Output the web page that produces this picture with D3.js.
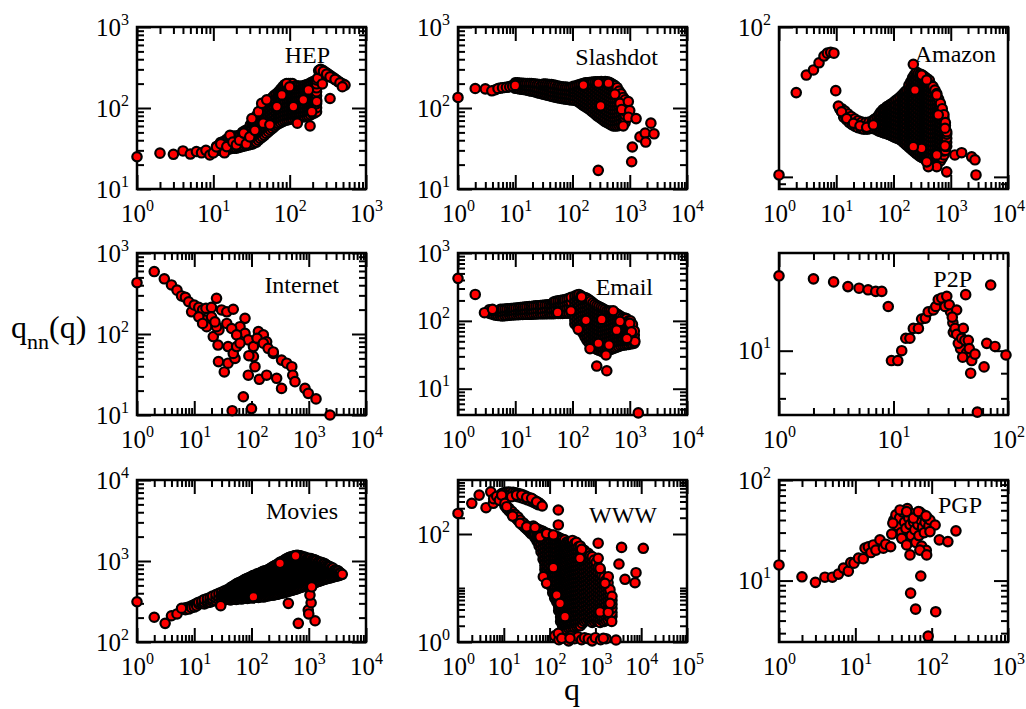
<!DOCTYPE html>
<html>
<head>
<meta charset="utf-8">
<script src="https://cdn.jsdelivr.net/npm/d3@7"></script>
<style>
body{margin:0;background:#fff}
text{font-family:"Liberation Serif","Times New Roman",serif}
</style>
</head>
<body>
<script>
// dense parts read column by column: [q, [qnn values]]; distinct dots as [q, qnn]
var hepCloud=[[11,[30,33.5]],[12.4,[30,33.6,37.5]],[14,[31,34.7,38.9]],[15.8,[31,34.7,38.9,42]],[17.8,[32,35.8,40,44.8]],[20,[32,35.8,40,44.8]],[22.6,[33,37,41.4,46.4]],[25.5,[34,38,42.6,47.7,52]],[28.8,[35,39.2,43.9,49.2,55]],[32.5,[36,40.3,45.2,50.6,56.7,63.5,68]],[36.7,[38,42.6,47.7,53.4,59.8,67,75,80]],[41.4,[42,47,52.7,59,66,74,83,93]],[46.7,[46,51.5,57.7,64.6,72.4,81,90.8,101.7,110]],[52.7,[51,57,64,71.6,80,90,100.6,112.7,120]],[59.5,[56,62.7,70.2,78.7,88,98.7,110.5,123.8,135]],[67,[62,69.4,77.8,87.1,97.5,109.2,122.3,137,150]],[76,[66,74,82.8,92.7,103.8,116.3,130.3,145.9,163,170]],[86,[70,78.4,87.8,98.3,110,123.3,138.1,154.7,173.2,194]],[97,[72,80.6,90.3,101.2,113.3,126.9,142.1,159.2,178.3,199.7]],[109,[74,82.9,92.8,104,116.4,130.4,146,163.6,183.2,200]],[123,[76,85.1,95.3,106.8,119.6,134,150,168,188]],[139,[77,86.2,96.6,108.2,121.2,135.7,152,170.2,185]],[157,[78,87.4,97.8,109.6,122.7,137.5,154,172.4,190]],[177,[80,89.6,100.4,112.4,125.9,141,157.9,176.9,198]],[200,[85,95.2,106.6,119.4,133.7,149.8,167.7,187.9,210]],[225,[90,100.8,112.9,126.4,141.6,158.6,177.6,199,222]],
  [260,[270]],[285,[262]],[315,[250]],[350,[238]],[390,[225]],[430,[212]],[480,[198]],[240,[290]],[255,[300]],[265,[295]],[280,[285]],[295,[275]],[310,[268]],[325,[258]],[345,[250]],[365,[240]],[385,[232]],[410,[222]],[435,[213]],[465,[205]],[500,[198]]];
var hepCloud2=[[11.7,[31,34.5]],[13.2,[30.5,34,38]],[14.9,[31,34.7,39,41]],[16.8,[31.5,35.2,39.5,43.5]],[18.9,[32,35.8,40.2,45]],[21.3,[32.5,36.4,40.7,45.6]],[24,[33.5,37.5,42,47,50]],[27.1,[34.5,38.6,43.3,48.5,53.5]],[30.6,[35.5,39.8,44.6,49.9,55.8,62]],[34.5,[37,41.5,46.4,52,58.2,65.2,72]],[39,[40,44.8,50.2,56.2,63,70.5,79,87]],[44,[44,49.3,55.2,61.8,69.2,77.5,86.8,97,104]],[49.6,[48.5,54.3,60.8,68.1,76.3,85.5,95.7,107,116]],[56,[53.5,60,67.2,75.2,84.2,94.3,105.6,118.3,128]],[63,[59,66,74,82.8,92.7,103.8,116.3,130.3,143]],[71.4,[64,71.7,80.3,90,100.8,112.9,126.4,141.6,158]],[81,[68,76.2,85.3,95.5,107,119.8,134.2,150.3,168.3,183]],[91.5,[71,79.5,89,99.7,111.7,125.1,140.1,156.9,175.7,197]],[103,[73,81.8,91.6,102.6,114.9,128.7,144.1,161.4,180.8,200]],[116,[75,84,94.1,105.4,118,132.2,148,165.8,185.7]],[131,[76.5,85.7,96,107.5,120.4,134.8,151,169.1,186]],[148,[77.5,86.8,97.2,108.9,122,136.6,153,171.3,187]],[167,[79,88.5,99.1,111,124.3,139.2,155.9,174.6,194]],[188,[82,91.8,102.8,115.2,129,144.5,161.8,181.2,204]],[212,[87,97.4,109.1,122.2,136.9,153.3,171.7,192.3,215]]];
var hep=[[232,233],[250,296],[277,283],[305,263],[338,243],[393,226],[456,205],[531,192],
  [1,25],[2,27.7],[3,26.8],[4,29.5],[5,27],[6,29],[7,28],[8,30],[9,26.3],[10,28],[11,33],[12.5,36],[14,28],[15,33.4],[16.5,46],[18,38],[20,35],[22,40],[25,49],[27,36],[30,44],[32,74],[35,53],[39,90],[43,114],[45,65],[55,62],[50,126],[68,104],[79,145],[91,200],[100,183],[112,104],[126,65],[151,126],[176,167],[185,60],[195,90],[226,120],[268,198],[338,131],[490,183]];

var slashdotCloud=[[4.5,[168]],[5.5,[176]],[6.5,[179]],[7.5,[182]],[8.5,[186]],[9.5,[187]],
  [10,[175,192,205]],[11.8,[172,188,203]],[13.8,[170,186,202]],[16.2,[166,183,201]],[19,[162,180,200]],[22.4,[158,176,198]],[26.3,[153,171,195]],[31,[148,166,186,198]],[36.4,[144,161,180,196]],[42.8,[140,156,175,195]],[50,[136,151,169,190]],[59,[133,148,165,185]],[69,[130,145,162,182]],[81,[128,143,160,180]],[95,[126,141,158,178]],
  [103,[126,140,155,170,185]],[121,[122,136,151,167,184,190]],[142,[112,125,139,154,171,190,197]],[167,[104,116,129,144,160,178,198,204]],[196,[97,108,120,134,149,166,185,206]],[230,[88,98,109,122,136,151,168,187,209]],[270,[80,89,99,110,123,137,152,170,189,210]],[317,[74,82,92,102,114,127,141,157,175,195,212]],[372,[68,76,85,95,106,118,131,146,163,181,201,212]],[437,[64,71,79,88,98,109,122,136,151,168,187,208]],[513,[60,67,75,83,93,103,115,128,143,159,177,195]],[603,[60,67,74,83,92,103,114,127,142,158,178]],[708,[62,69,77,86,96,107,119,133,150]],[830,[66,74,82,92,102,114,126]]];
var slashdotCloud2=[[10.9,[174,190,204]],[12.8,[171,187,202]],[15,[168,185,201]],[17.6,[164,181,200]],[20.7,[160,178,199]],[24.3,[155,173,196]],[28.6,[150,168,190]],[33.6,[146,163,183,197]],[39.5,[142,158,177,195]],[46,[138,153,172,192]],[54.5,[134,150,167,187]],[64,[131,146,163,183]],[75,[129,144,161,181]],[88,[127,142,159,179]],
  [111,[124,138,153,168,185]],[131,[117,130,145,160,177,193]],[154,[108,120,134,149,165,183,200]],[181,[100,111,124,138,154,171,190,205]],[213,[92,103,115,128,142,158,176,196,208]],[250,[84,94,104,116,129,144,160,178,198,210]],[293,[77,85,95,106,118,131,146,163,182,203,211]],[344,[71,79,88,98,109,122,136,151,168,187,207]],[403,[66,73,82,91,102,113,126,141,157,175,195,210]],[473,[62,69,77,86,96,107,119,132,147,164,182,202]],[556,[60,67,74,83,92,103,114,127,142,158,176,188]],[654,[61,68,76,84,94,105,117,130,145,162]],[770,[64,71,79,88,98,109,121,135]]];
var slashdot=[[1,135],[2,174],[3,172],[3.9,163],[5,174],[6,178],[7,180],[8,183],[9,185],[10,190],[155,192],[282,202],[424,202],[550,148],[310,106],[675,114],[944,120],[720,96],[1000,93],[944,77],[1290,74],[770,60],[282,17],[1080,21.7],[1110,33],[1510,44],[1860,49],[1900,38],[2340,65],[2650,48]];

var amazonCloud=[[11.5,[28.5]],[12,[27.8]],[13,[26.8]],[14,[26]],[15,[25.2]],[16.5,[24.5]],[18,[23.8]],[20,[23.2]],[22,[22.7]],[24.5,[22.3]],[27,[22]],[30,[21.8]],[33,[21.7]],[36,[21.8]],[40,[22]],[44,[22.3]],
  [13.5,[25]],[15.2,[24]],[17,[23]],[19,[22.3]],[21.5,[21.7]],[24,[21.3]],[27.5,[21]],[30.5,[20.8]],[34.5,[20.8]],[38,[21]],[42,[21.2]],
  [12.5,[28.5]],[14.2,[27.5]],[16,[26.3]],[18.2,[25.3]],[21,[24.4]],[24.2,[23.7]],[28,[23.2]],[32.5,[23]],[37.5,[23.2]],[43,[23.6]],
  [45,[21,22.5,24]],[52,[20.5,21.8,23.2,25]],[60,[20,21.3,22.7,24.2,25.6,27]],[70,[19.6,20.9,22.3,23.8,25.3,26.9,28.5]],[82,[19.2,20.5,21.9,23.3,24.8,26.4,28.1,29.8]],[96,[18.7,19.9,21.2,22.6,24,25.6,27.2,29,31]],[112,[18.2,19.4,20.7,22,23.4,24.9,26.5,28.2,30.1,32.5]],[130,[17.8,19,20.2,21.5,22.9,24.4,26,27.7,29.5,31.5,34]],[150,[17,18.1,19.3,20.6,21.9,23.3,24.8,26.4,28.1,30,32,34,36]],[172,[16.2,17.3,18.4,19.6,20.9,22.3,23.7,25.2,26.9,28.6,30.5,32.5,34.6,36.8,38]],[200,[15.4,16.4,17.5,18.6,19.8,21.1,22.5,24,25.5,27.2,29,30.9,32.9,35,37.3,39.7,43]],[232,[14.7,15.7,16.7,17.8,19,20.2,21.5,22.9,24.4,26,27.7,29.5,31.4,33.5,35.7,38,40.5,43.1,45.9,48]],[270,[14,14.9,15.9,16.9,18,19.2,20.4,21.8,23.2,24.7,26.3,28,29.9,31.8,33.9,36.1,38.4,40.9,43.6,46.4,49]],[313,[13.5,14.4,15.3,16.3,17.4,18.5,19.7,21,22.4,23.8,25.4,27,28.8,30.7,32.7,34.8,37,39.5,42,44.8,48]],[364,[13.1,14,14.9,15.8,16.9,18,19.1,20.4,21.7,23.1,24.6,26.2,27.9,29.8,31.7,33.8,36,38.3,40.8,43.5,46]],[423,[12.6,13.4,14.3,15.2,16.2,17.3,18.4,19.6,20.9,22.2,23.7,25.2,26.9,28.6,30.5,32.5,34.6,36.8,39.2,41.8,44]],[490,[12.3,13.1,14,14.9,15.8,16.9,18,19.1,20.4,21.7,23.1,24.6,26.2,27.9,29.8,31.7,33.8,36,38.3,40]],[570,[12.4,13.2,14.1,15,16,17,18.1,19.3,20.6,21.9,23.3,24.8,26.4,28.2,30,32,34,36]],[660,[12.8,13.6,14.5,15.5,16.5,17.6,18.7,19.9,21.2,22.6,24.1,25.6,27.3,29.1,31]],[760,[14,14.9,15.9,16.9,18,19.2,20.4,21.8,23.2,24.7,26]],[850,[16,17,18.1,19.3,20]]];
var amazonCloud2=[[48,[21.4,22.9,24.4]],[56,[20.2,21.5,23,24.5,26]],[65,[19.8,21.1,22.5,24,25.5,27.2,28]],[76,[19.4,20.7,22.1,23.5,25,26.6,28.3,29.3]],[89,[19,20.2,21.5,22.9,24.4,26,27.7,29.5,30.5]],[104,[18.4,19.6,20.9,22.3,23.7,25.2,26.9,28.6,30.5,31.8]],[121,[18,19.2,20.4,21.8,23.2,24.7,26.3,28,29.8,31.7,33.2]],[140,[17.4,18.5,19.7,21,22.4,23.8,25.4,27,28.8,30.7,32.7,35]],[161,[16.6,17.7,18.8,20,21.3,22.7,24.2,25.8,27.5,29.3,31.2,33.2,35.4,37]],[186,[15.8,16.8,17.9,19.1,20.3,21.6,23,24.5,26.1,27.8,29.7,31.6,33.7,35.9,38.2,41]],[216,[15,16,17,18.1,19.3,20.6,22,23.4,24.9,26.5,28.2,30.1,32,34.1,36.3,38.7,41.2,44,46]],[251,[14.3,15.2,16.2,17.3,18.4,19.6,20.9,22.3,23.7,25.3,26.9,28.7,30.5,32.5,34.6,36.9,39.3,41.9,44.6,47.5,50]],[291,[13.7,14.6,15.6,16.6,17.7,18.8,20,21.3,22.7,24.2,25.8,27.5,29.3,31.2,33.3,35.4,37.7,40.2,42.8,45.6,48.5]],[338,[13.3,14.2,15.1,16.1,17.1,18.2,19.4,20.7,22,23.5,25,26.6,28.4,30.2,32.2,34.3,36.5,38.9,41.4,44,47]],[393,[12.8,13.7,14.6,15.5,16.5,17.6,18.8,20,21.3,22.7,24.1,25.7,27.4,29.2,31.1,33.1,35.3,37.6,40,42.6,45]],[456,[12.4,13.2,14.1,15,16,17,18.1,19.3,20.6,21.9,23.4,24.9,26.5,28.2,30.1,32,34.1,36.3,38.7,41]],[530,[12.3,13.1,14,14.9,15.8,16.9,18,19.1,20.4,21.7,23.1,24.6,26.2,27.9,29.8,31.7,33.8,36,38]],[615,[12.6,13.4,14.3,15.2,16.2,17.3,18.4,19.6,20.9,22.2,23.7,25.2,26.9,28.6,30.5,33]],[710,[13.4,14.3,15.2,16.2,17.3,18.4,19.6,20.9,22.2,23.7,25.2,27,28.5]],[805,[15,16,17,18.1,19.3,20.6,22,23]]];
var amazon=[[1,10.3],[2,36.5],[3,47.8],[4,51.7],[5,57.7],[6.1,64],[7,66.9],[8,67.8],[9.1,66.9],[9.8,37.6],[10.9,29.7],[12.4,27.2],[15.2,24.5],[20,22.8],[26,21.9],[34,21.4],[44.5,22.2],[222,56.4],[310,47.8],[380,44.3],[237,38],[569,35.2],[605,25.9],[795,21.1],[795,16.1],[569,14],[850,10.8],[569,11.7],[406,11.7],[380,12.6],[310,15.5],[222,15.9],[1180,14],[1550,14.5],[2320,13.6],[2650,13],[2760,10.3]];

var internet=[[1,430],[2,590],[3,480],[4,403],[5,348],[6,295],[7,284],[8,250],[9,188],[10,228],[12,213],[14,198],[16,208],[20,213],[24.5,276],[30,198],[37,188],[48,202],[15.4,148],[16.5,123],[21.5,93],[26,73],[77,156],[132,107],[161,97.5],[184,80],[240,57.5],[335,47.6],[412,43.6],[505,39.5],[525,31],[575,25.8],[860,21.3],[980,18.5],[1340,15.8],[2350,10],[26.5,45.6],[33.5,34],[39,43.6],[51.5,50],[72,16.8],[46,11.3],[100,12],[88,31],[115,39.5],[137,27.6],[184,31],[275,28.4],[335,21.3],[108,52.6],[90,54],[63,123],[77,102],[88,84.5],[108,70],[125,88.6],[161,77],[195,66.6],[240,60],[39,70],[48,57.5],[55,70],[27,112],[37,135],[45,117],[55,97.5],[63,77],[24.5,123],[20,163],[23,141],[12,163],[14,135]];

var emailCloud=[[3.5,[130,145]],[4.2,[123,138]],[5,[120,135]],[6,[118,133,148]],[7.2,[120,136,150]],[8.6,[122,138,152]],[10.3,[123,139,155]],[12.3,[124,140,157]],[14.7,[125,142,160]],[17.6,[125,143,162]],[21,[126,145,165]],[25,[127,146,167]],[30,[127,147,170]],[36,[128,148,172]],[43,[128,150,175]],[51,[129,152,178,195]],[61,[129,153,181,200]],[73,[130,155,184,205]],[87,[130,157,188,215]],
  [110,[90,103,118,135,155,177,203,232]],[130,[78,89,102,117,134,153,175,200,229,245]],[152,[66,76,87,99,113,130,149,170,195,223]],[178,[52,60,68,78,89,102,117,134,153,175,200,215]],[209,[44,50,57,66,75,86,98,112,128,147,168,195]],[245,[40,46,52,60,68,78,89,102,117,134,153,175]],[288,[37,42,48,55,63,72,82,94,108,123,141,162]],[338,[35,40,46,52,60,68,78,89,102,117,134,152]],[396,[36,41,47,54,62,71,81,93,106,121,140]],[465,[38,43,49,56,64,73,84,96,110,126,140]],[545,[40,46,52,60,68,78,89,102,117,132]],[640,[42,48,55,63,72,82,94,108,122]],[750,[44,50,57,65,75,86,98,112]],[880,[45,51,58,67,76,87,100,108]],[1030,[46,53,60,69,79,90,100]],[1200,[47,54,62,71]]];
var emailCloud2=[[3.8,[127,141]],[4.6,[121,136]],[5.5,[119,134,148]],[6.6,[119,134,149]],[7.9,[121,137,151]],[9.4,[122,138,153]],[11.3,[123,139,156]],[13.5,[124,141,158]],[16,[125,142,161]],[19.2,[125,144,163]],[23,[126,145,166]],[27.5,[127,146,168]],[33,[127,148,171]],[39.5,[128,149,173]],[47,[128,151,176,190]],[56,[129,152,180,198]],[67,[129,154,182,203]],[80,[130,156,186,210]],[95,[131,158,190,222]],
  [120,[84,96,110,126,144,165,189,216,240]],[141,[72,82,94,108,123,141,161,185,212,235]],[165,[58,67,77,88,101,115,132,151,173,198,220]],[193,[48,55,62,72,82,94,107,123,140,161,184,205]],[227,[42,48,54,62,71,82,93,107,122,140,160,185]],[266,[38,44,50,57,65,75,85,98,112,128,147,168]],[313,[36,41,47,53,61,70,80,91,105,120,137,157]],[367,[35,40,46,53,60,69,79,90,103,118,135,146]],[430,[37,42,48,55,63,72,82,94,108,124,140]],[505,[39,44,50,58,66,75,86,99,113,129,136]],[592,[41,47,54,61,70,80,92,105,120,127]],[695,[43,49,56,64,73,84,96,110,117]],[815,[44,50,58,66,75,86,99,110]],[955,[45,52,59,68,77,88,100]],[1115,[46,53,61,70,80,88]]];
var email=[[1,423],[2,245],[2.9,132],[4,148],[55,133],[94,141],[144,226],[126,75],[172,102],[324,105],[515,141],[675,98],[590,73],[1000,92],[1070,69],[1230,49.5],[890,55],[435,44],[283,46.8],[202,39],[385,31.4],[265,21.6],[397,18.4],[1410,4.4]];

var p2pCloud=[[25.5,[12.5]],[27,[12.6]],[31.5,[12.0]],[33,[11.4]],[37.5,[10.9]],[38.5,[10.1]],[43.5,[9.9]],[46.5,[9.7]]];
var p2p=[[1,14.2],[2,14.0],[3,13.8],[4,13.5],[5,13.4],[6,13.3],[7,13.2],[7.9,13.2],[9,12.3],[9.6,9.55],[10.9,9.55],[11.8,10.0],[12.8,10.6],[13.9,10.6],[14.9,11.1],[16.5,11.1],[17.6,11.6],[19,11.65],[20.1,12.0],[22.3,12.1],[23.4,12.3],[24.6,12.7],[26.4,12.8],[29.2,12.9],[28.2,12.3],[30.7,12.4],[35.6,12.1],[42.7,13.0],[32.6,11.7],[33.3,10.9],[34.5,11.1],[35.6,10.8],[36.8,10.35],[39.4,10.6],[40.7,11.1],[42,10.5],[45,10.5],[45.9,10.1],[40.2,9.7],[48.2,9.55],[51.5,9.84],[47.2,9.0],[61.8,9.27],[54,7.5],[70.6,13.6],[65.2,10.35],[77,10.2],[96,9.8]];

var moviesCloud=[[6,[255]],[7,[265,250]],[8,[270,255]],[9,[280,265]],[10,[290,270]],[11,[300,280]],[12,[295,310]],[13.5,[300,320]],[15,[295,310,335]],[17,[305,320,345]],[19,[310,330,355]],[21,[320,340,370]],[24,[325,350,385]],[27,[330,360,400]],[30,[345,375,410]],[34,[330,360,395,430]],[38,[340,375,410,445]],[43,[330,360,395,430,470]],[48,[340,375,410,450,490]],[54,[335,365,400,440,480,520]],[60,[345,380,415,455,500,540]],[68,[340,370,405,445,485,530,560]],[76,[350,385,420,460,505,550,590]],[85,[345,375,410,450,490,535,580,610]],[95,[355,390,430,470,515,560,600,630]],[106,[350,380,420,460,500,545,590,640,660]],[118,[360,395,435,475,520,565,615,670]],[132,[355,390,425,465,510,555,605,655,700]],[148,[365,400,440,480,525,575,625,680,720]],[165,[360,395,430,470,515,560,610,665,720,750]],[185,[370,405,445,490,535,585,640,695,760]],[207,[375,410,450,495,540,590,645,705,770,800]],[231,[380,420,460,505,555,605,660,720,790,840]],[258,[385,425,470,515,565,620,680,745,815,880]],[288,[390,430,475,520,570,625,690,760,830,910]],[322,[400,440,485,535,585,645,705,775,850,930,970]],[360,[405,450,495,545,600,660,725,795,875,960,1000]],[402,[415,460,505,555,610,670,740,815,895,985,1060]],[449,[425,470,520,570,625,690,760,835,920,1010,1100]],[502,[435,480,530,585,645,710,780,860,945,1040,1130]],[561,[445,490,540,595,655,720,795,875,960,1060,1160]],[627,[455,500,550,605,670,735,810,890,980,1080,1180]],[700,[470,515,565,620,685,755,830,915,1005,1100,1160]],[782,[480,530,580,640,700,775,850,935,1030,1120]],[874,[495,545,600,660,725,795,875,960,1050,1110]],[976,[510,560,615,675,745,820,900,990,1080]],[1090,[520,570,630,690,760,835,920,1010,1070]],[1218,[535,590,650,715,785,865,950,1040]],[1361,[550,605,665,730,805,885,970,1010]],[1520,[565,620,680,750,825,905,975]],[1698,[580,635,700,770,845,920,960]],[1897,[595,650,715,785,860,930]],[2119,[610,665,730,800,870]],[2367,[620,680,745,810,850]],[2644,[635,695,760,820]],[2954,[650,710,770]],[3300,[660,720,750]],[3600,[675,710]]];
var moviesCloud2=[[32,[360,392]],[36,[345,380,418]],[40.5,[335,370,405,445]],[45.5,[335,368,402,440,480]],[51,[338,370,405,445,485,505]],[57,[340,372,408,448,490,530]],[64,[342,375,410,450,492,535,550]],[72,[345,378,412,452,495,540,575]],[80,[348,380,415,455,498,542,585,600]],[90,[350,382,420,460,502,548,590,620]],[100,[352,385,425,465,508,552,595,645]],[112,[355,388,428,468,510,555,602,655,665]],[125,[358,392,430,470,515,560,610,662,690]],[140,[360,396,435,475,520,568,618,670,712]],[156,[362,398,436,476,520,568,618,672,720,740]],[175,[365,400,438,480,525,572,625,680,740,755]],[196,[372,408,448,492,538,588,642,700,765,785]],[219,[378,415,455,500,548,598,652,712,780,820]],[244,[382,422,465,510,560,612,670,732,802,860]],[272,[388,428,472,518,568,622,685,752,822,895]],[305,[395,435,480,528,578,635,698,768,840,920,950]],[340,[402,445,490,540,592,652,715,785,862,945,985]],[380,[410,455,500,550,605,665,732,805,885,972,1030]],[425,[420,465,512,562,618,680,750,825,908,998,1080]],[475,[430,475,525,578,635,700,770,848,932,1025,1115]],[531,[440,485,535,590,650,715,788,868,952,1050,1145]],[594,[450,495,545,600,662,728,802,882,970,1070,1170]],[663,[462,508,558,612,678,745,820,902,992,1090,1170]],[740,[475,522,572,630,692,765,840,925,1018,1110,1150]],[826,[488,538,590,650,712,785,862,948,1040,1115]],[924,[502,552,608,668,735,808,888,975,1065]],[1032,[515,565,622,682,752,828,910,1000,1075]],[1152,[528,580,640,702,772,850,935,1025]],[1288,[542,598,658,722,795,875,960,1025]],[1440,[558,612,672,740,815,895,972]],[1608,[572,628,690,760,835,912,958]],[1797,[588,642,708,778,852,925]],[2008,[602,658,722,792,865,900]],[2243,[615,672,738,805,860]],[2505,[628,688,752,815]],[2800,[642,702,765]],[3130,[655,715,760]],[3450,[668,715]]];
var movies=[[1,314],[2,202],[3.1,170],[4,211],[5,222],[6,261],[29,281],[108,362],[440,300],[657,170],[980,248],[1100,305],[1050,380],[1125,480],[1290,183],[1000,222],[315,935],[590,1160],[3850,685]];

var wwwCloud=[[44,[100,118,140]],[53,[74,88,105,125]],[65,[47,56,67,80,96,115]],[79,[22,26,31,37,44,52,62,74,88,105]],[96,[14,17,20,24,29,35,42,50,59,70,84,100]],[117,[8.2,9.7,11.5,14,16.5,19.5,23,28,33,39,47,56,67,80,95]],[143,[5.5,6.5,7.7,9.2,11,13,15.5,18.5,22,27,32,38,45,53,63,75,90]],[174,[2.4,2.9,3.5,4.2,5,5.9,7,8.4,10,12,14,17,20,24,29,34,41,49,58,69,82]],[212,[1.65,1.95,2.3,2.8,3.3,4,4.7,5.6,6.7,8,9.5,11.3,13.5,16,19,23,27,33,39,46,55,66,78]],[259,[1.8,2.1,2.5,3,3.6,4.3,5.1,6.1,7.3,8.7,10.4,12.3,14.7,17.5,21,25,30,36,42,50,60,72]],[316,[1.9,2.2,2.7,3.2,3.8,4.5,5.4,6.4,7.6,9.1,10.9,13,15.5,18.5,22,26,31,37,44,53,63,76]],[385,[1.95,2.3,2.8,3.4,4,4.8,5.7,6.8,8.1,9.7,11.6,13.8,16.5,19.7,23.5,28,34,40,48,58,70]],[470,[2,2.4,2.9,3.5,4.1,4.9,5.9,7,8.4,10,12,14.3,17,20.5,24.5,29,35,42,50,60]],[573,[2.4,2.9,3.5,4.1,4.9,5.9,7,8.4,10,12,14.3,17,20.5,24.5,29,35,42,50]],[700,[2.6,3.1,3.7,4.4,5.3,6.3,7.5,9,10.7,12.8,15.3,18.3,22,26,31,37,44]],[854,[2.3,2.7,3.2,3.8,4.5,5.4,6.4,7.6,9.1,10.9,13,15.5,18.5,22,26.5,32,38]],[1040,[2.5,2.9,3.5,4.2,5,6,7.2,8.6,10.3,12.3,14.7,17.5,21,25,30]],[1270,[2.3,2.7,3.2,3.8,4.5,5.4,6.4,7.6,9.1,10.9,13,15.5,18.5,22]],[1550,[2.4,2.8,3.3,4,4.7,5.6,6.7,8,9.5,11.3,13.5,16]],[1890,[2.6,3.1,3.7,4.4,5.2,6.2,7.4,8.8,10.5,12.5]],[2300,[3,3.5,4.2,5,5.9,7]],
  [130,[1.3]],[160,[1.1]],[190,[1.4]],[220,[1.2]],[260,[1.05]],[300,[1.3]],[350,[1.15]],[420,[1.25]],[500,[1.1]],[580,[1.2]],[700,[1.15]],[850,[1.05]],[1000,[1.2]],[1300,[1.1]],[1700,[1.15]],
  [10.6,[330]],[11.5,[300]],[12.5,[280]],[13.5,[262]],[14.5,[245]],[15.6,[228]],[17,[212]],[18.5,[196]],[20,[182]],[22,[168]],[24,[155]],[26,[144]],[28.5,[134]],[31,[125]],[34,[116]],[37,[108]],[40,[100]],[48,[86]],[53,[80]],[58,[74]],
  [11,[350]],[13,[300]],[15,[262]],[17.5,[232]],[20.5,[205]],[23,[180]],[27,[160]],[31.5,[142]],[36,[128]],[42,[112]],[48.5,[100]],[55,[90]],
  [9,[560]],[10,[580,520]],[11,[590]],[12.5,[600,540]],[14,[595,530]],[16,[590]],[17,[510]],[18,[580]],[20,[565,490]],[23,[550]],[24,[470]],[26,[530]],[28,[450]],[30,[505]],[33,[430]],[34,[480]],[38,[410]],[39,[455]],[44,[390]],[45,[430]],[50,[370]],[51,[405]],[56,[350]],[58,[380]],[64,[355]]];
var wwwCloud2=[[48,[90,108,128]],[59,[60,72,86,102,120]],[72,[34,41,49,58,70,84,100,112]],[87,[18,21.5,26,31,37,44,53,63,75,90,103]],[106,[11,13,15.5,18.5,22,26.5,32,38,45,54,64,77,92]],[129,[6.5,7.8,9.3,11,13.2,15.8,19,22.5,27,32,38,46,55,65,78,90]],[158,[3.8,4.5,5.4,6.4,7.6,9.1,10.9,13,15.5,18.5,22,26,31,37,44,53,63,75,86]],[192,[2,2.4,2.9,3.5,4.2,5,6,7.1,8.5,10.1,12,14.3,17,20.3,24.2,29,34.5,41,49,58,69,80]],[234,[1.7,2,2.4,2.9,3.5,4.2,5,6,7.1,8.5,10.1,12,14.3,17,20.3,24.2,29,34.5,41,49,58,70]],[286,[1.85,2.2,2.6,3.1,3.7,4.4,5.2,6.2,7.4,8.9,10.6,12.6,15,18,21.5,25.5,30.5,36.5,43.5,52,62,72]],[349,[1.9,2.3,2.7,3.2,3.9,4.6,5.5,6.6,7.9,9.4,11.2,13.4,16,19,22.7,27,32.5,38.5,46,55,66]],[425,[2,2.4,2.9,3.4,4.1,4.9,5.8,6.9,8.2,9.8,11.7,14,16.7,19.9,23.8,28.4,34,40.5,48,58]],[519,[2.2,2.6,3.1,3.7,4.4,5.3,6.3,7.5,9,10.7,12.8,15.3,18.3,21.8,26,31,37,45,52]],[633,[2.5,3,3.6,4.3,5.1,6.1,7.3,8.7,10.4,12.4,14.8,17.6,21,25,30,36,43]],[773,[2.5,2.9,3.5,4.1,4.9,5.8,7,8.3,9.9,11.8,14.1,16.8,20,24,28.5,34,40]],[943,[2.4,2.8,3.3,4,4.7,5.6,6.7,8,9.5,11.3,13.5,16,19.2,23,27.5,33]],[1150,[2.4,2.8,3.3,3.9,4.7,5.6,6.7,8,9.5,11.3,13.5,16,19.2,24]],[1400,[2.5,2.9,3.5,4.1,4.9,5.8,7,8.3,9.9,11.8,14,17]],[1710,[2.5,3,3.5,4.2,5,6,7.1,8.5,10.1,12,14]],[2080,[2.8,3.3,3.9,4.6,5.5,6.5,7.8,9.3]]];
var www=[[1,240],[2,370],[2.9,525],[4.1,307],[5.2,605],[5.9,370],[6,450],[7,500],[8,420],[9,525],[10.6,370],[14.8,490],[19,525],[24.6,525],[31.6,478],[40.5,457],[52,395],[69,330],[155,278],[155,147],[11.6,320],[15.6,215],[22.6,158],[31.6,136],[48,132],[62,89],[86,102],[121,96],[121,23.8],[73,16.2],[86,12.2],[143,7.4],[169,5.2],[217,2.95],[155,1.45],[184,1.17],[279,1.17],[500,52],[460,35.5],[1150,67.5],[1150,35.5],[1260,23],[1910,16.2],[1620,12.2],[3730,56.5],[3270,27.8],[4430,14.5],[7320,12.5],[7700,19.2],[11100,54.3],[1260,3.6],[1910,3.55],[2270,2.4],[2090,5.2],[1490,1.17],[2820,1.09]];

var pgpCloud=[[32,[40]],[34,[45]],[36,[35]],[38,[42]],[40,[30]],[42,[48]],[44,[38]],[46,[33]],[48,[52]],[50,[42]],[52,[36]],[54,[28]],[56,[46]],[58,[38]],[60,[32]],[62,[24]],[64,[44]],[66,[36]],[68,[28]],[70,[48]],[72,[40]],[74,[22]],[76,[34]],[78,[45]],[80,[30]],[82,[38]],[85,[20]],[88,[42]],[92,[35]],[95,[40]]];
var pgp=[[1,14.3],[2,10.9],[3,9.6],[4,10.8],[5,10.8],[6,11.6],[7,13.3],[8.1,12.4],[8.7,15.1],[9.6,14.9],[11,16.7],[12.7,16.5],[13.4,21],[14.8,21.7],[16,19],[17.2,22.6],[18.6,20.1],[21,25.4],[23.3,21],[25,23],[29,21.7],[30,29],[31,37.2],[38.5,50.4],[47,48.5],[57.6,41.7],[67,48.5],[84.3,44],[111,35.7],[95,30.7],[126,25.4],[163,24.4],[208,31.2],[40.5,26.3],[47,22.6],[52,18],[70,20.1],[86,18],[72,11.1],[53,7.5],[61.6,5.2],[113,4.9],[90,2.8]];

var names=["HEP","Slashdot","Amazon","Internet","Email","P2P","Movies","WWW","PGP"];
var clouds=[hepCloud.concat(hepCloud2),slashdotCloud.concat(slashdotCloud2),amazonCloud.concat(amazonCloud2),[],emailCloud.concat(emailCloud2),p2pCloud,moviesCloud.concat(moviesCloud2),wwwCloud.concat(wwwCloud2),pgpCloud];
var dots=[hep,slashdot,amazon,internet,email,p2p,movies,www,pgp];
var xMax=[1e3,1e4,1e4,1e4,1e4,1e2,1e4,1e5,1e3];
var yMin=[10,10,8.3,10,4.1,7.4,100,1,2.45];
var yMax=[1e3,1e3,100,1e3,1e3,15.8,1e4,1e3,100];
var yMajor=[[10,100,1000],[10,100,1000],[10,100],[10,100,1000],[10,100,1000],[10],[100,1000,10000],[1,100],[10,100]];
var yLabels=[[10,100,1000],[10,100,1000],[100],[10,100,1000],[10,100,1000],[10],[100,1000,10000],[1,100],[10,100]];
var yMinorDec=[[10,100],[10,100],[1],[10,100],[1,10,100],[1,10],[100,1000],[1,100],[1,10]];
var yMinorExtra=[[],[],[],[],[],[],[],[10],[]];

// layout
var colX=[137,458,779], rowY=[27,253,480], W=229, H=162;
var labelPos=[[193,36],[200,38],[217,35],[202,40],[195,42],[193,34],[201,39],[199,43],[203,33]];

var svg=d3.select("body").append("svg").attr("width",1026).attr("height",709);

function decades(lo,hi){var a=[];for(var d=lo;d<hi;d*=10)a.push(d);return a;}
function minors(decs,dom,extra){
  var a=[];
  decs.forEach(function(d){for(var m=2;m<=9;m++)a.push(d*m);});
  a=a.concat(extra||[]);
  return a.filter(function(v){return v>=dom[0]-1e-9&&v<=dom[1]+1e-9;});
}
function flat(cols){
  var out=[];
  cols.forEach(function(c){c[1].forEach(function(v){out.push([c[0],v]);});});
  // draw dense part left to right
  out.sort(function(a,b){return a[0]-b[0];});
  return out;
}
function sup(sel){
  sel.selectAll(".tick text").each(function(d){
    var t=d3.select(this);
    if(t.text()==="")return;
    var e=Math.round(Math.log10(d));
    t.text(null);
    t.append("tspan").text("10");
    t.append("tspan").attr("dy",-11).attr("font-size",16).text(e);
  });
}
function style(g){
  g.select(".domain").remove();
  g.selectAll(".tick line").attr("stroke","#000").attr("stroke-width",2);
  g.attr("font-size",25).attr("font-family","'Liberation Serif','Times New Roman',serif");
}

names.forEach(function(name,i){
  var g=svg.append("g").attr("transform","translate("+colX[i%3]+","+rowY[Math.floor(i/3)]+")");
  var x=d3.scaleLog().domain([1,xMax[i]]).range([0,W]);
  var y=d3.scaleLog().domain([yMin[i],yMax[i]]).range([H,0]);
  var xMaj=decades(1,xMax[i]*10);
  var xMin=minors(decades(1,xMax[i]),x.domain());
  var yMin_=minors(yMinorDec[i],y.domain(),yMinorExtra[i]);
  var lab=yLabels[i];

  [[d3.axisBottom(x),"0,"+H,xMin],[d3.axisTop(x),"0,0",xMin],
   [d3.axisLeft(y),"0,0",yMin_],[d3.axisRight(y),W+",0",yMin_]].forEach(function(a){
    g.append("g").attr("transform","translate("+a[1]+")")
      .call(a[0].tickValues(a[2]).tickSize(-7).tickFormat(""))
      .call(style);
  });
  g.append("g").attr("transform","translate(0,"+H+")")
    .call(d3.axisBottom(x).tickValues(xMaj).tickSize(-14).tickPadding(15).tickFormat(function(){return "10";}))
    .call(style).call(sup);
  g.append("g")
    .call(d3.axisTop(x).tickValues(xMaj).tickSize(-14).tickFormat(""))
    .call(style);
  g.append("g")
    .call(d3.axisLeft(y).tickValues(yMajor[i]).tickSize(-14).tickPadding(8)
      .tickFormat(function(d){return lab.indexOf(d)>=0?"10":"";}))
    .call(style).call(sup);
  g.append("g").attr("transform","translate("+W+",0)")
    .call(d3.axisRight(y).tickValues(yMajor[i]).tickSize(-14).tickFormat(""))
    .call(style);

  g.append("rect").attr("width",W).attr("height",H)
    .attr("fill","none").attr("stroke","#000").attr("stroke-width",2.5);

  g.append("text").attr("x",labelPos[i][0]).attr("y",labelPos[i][1])
    .attr("text-anchor","end").attr("font-size",24).text(name);

  var pts=flat(clouds[i]).concat(dots[i]);
  g.selectAll("circle").data(pts).enter().append("circle")
    .attr("cx",function(d){return x(d[0]);})
    .attr("cy",function(d){return y(d[1]);})
    .attr("r",4.7)
    .attr("fill","#ff0000").attr("stroke","#000").attr("stroke-width",2.2);
});

// axis titles
var yt=svg.append("text").attr("x",11).attr("y",338).attr("font-size",32);
yt.append("tspan").text("q");
yt.append("tspan").attr("font-size",22).attr("dy",11).text("nn");
yt.append("tspan").attr("dy",-11).text("(q)");
svg.append("text").attr("x",572).attr("y",700).attr("text-anchor","middle").attr("font-size",32).text("q");
</script>
</body>
</html>
